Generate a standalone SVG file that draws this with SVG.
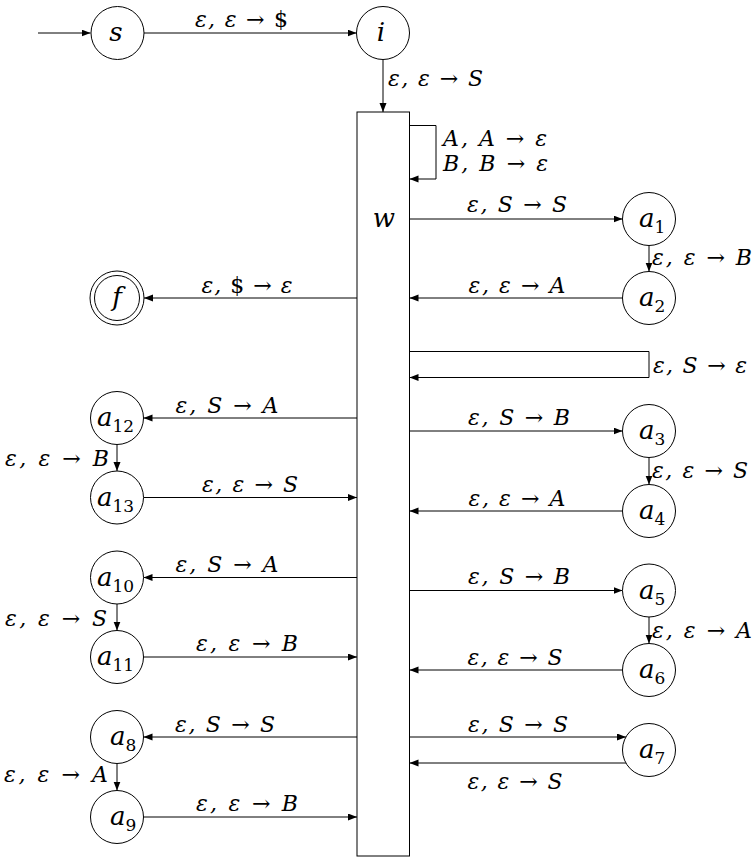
<svg xmlns="http://www.w3.org/2000/svg" width="755" height="859" viewBox="0 0 755 859" font-family="DejaVu Serif, serif">
<defs>
<marker id="ah" markerUnits="userSpaceOnUse" markerWidth="10" markerHeight="8" refX="9" refY="3.5" orient="auto">
<path d="M0,0 L9,3.5 L0,7 Z" fill="#000"/>
</marker>
<style>
.n{fill:#fff;stroke:#000;stroke-width:1}
.e{fill:none;stroke:#000;stroke-width:1;marker-end:url(#ah)}
text{font-family:'DejaVu Serif',serif;font-size:26px;font-style:italic;fill:#000}
text.t{font-size:22px}
.u{font-style:normal}
.sb{font-size:17px;font-style:normal}
</style>
</defs>
<rect width="755" height="859" fill="#fff"/>

<g id="connectors">
<line class="e" x1="38" y1="33" x2="90.5" y2="33"/>
<line class="e" x1="144" y1="33" x2="356.5" y2="33"/>
<line class="e" x1="383" y1="59.5" x2="383" y2="112"/>
<path class="e" d="M409.5,125.5 H436 V179 H409.5"/>
<line class="e" x1="409.5" y1="219" x2="622.5" y2="219"/>
<line class="e" x1="649" y1="245.5" x2="649" y2="271.5"/>
<line class="e" x1="622.5" y1="298" x2="409.5" y2="298"/>
<path class="e" d="M409.5,351.5 H649 V377.5 H409.5"/>
<line class="e" x1="409.5" y1="431" x2="622.5" y2="431"/>
<line class="e" x1="649" y1="457.5" x2="649" y2="484.5"/>
<line class="e" x1="622.5" y1="511" x2="409.5" y2="511"/>
<line class="e" x1="409.5" y1="590.5" x2="622.5" y2="590.5"/>
<line class="e" x1="649" y1="617" x2="649" y2="643.5"/>
<line class="e" x1="622.5" y1="670" x2="409.5" y2="670"/>
<line class="e" x1="409.5" y1="737" x2="626" y2="737"/>
<line class="e" x1="626" y1="763" x2="409.5" y2="763"/>
<line class="e" x1="357" y1="298" x2="144" y2="298"/>
<line class="e" x1="357" y1="418" x2="143.5" y2="418"/>
<line class="e" x1="117" y1="444.5" x2="117" y2="471"/>
<line class="e" x1="143.5" y1="497.5" x2="357" y2="497.5"/>
<line class="e" x1="357" y1="577.5" x2="143.5" y2="577.5"/>
<line class="e" x1="117" y1="604" x2="117" y2="630.5"/>
<line class="e" x1="143.5" y1="657" x2="357" y2="657"/>
<line class="e" x1="357" y1="737" x2="143.5" y2="737"/>
<line class="e" x1="117" y1="763.5" x2="117" y2="790.5"/>
<line class="e" x1="143.5" y1="817" x2="357" y2="817"/>

<text class="t" x="241.5" y="27" text-anchor="middle" textLength="93" lengthAdjust="spacing">ε, ε <tspan class="u">→ $</tspan></text>
<text class="t" x="388" y="86" textLength="95" lengthAdjust="spacing">ε, ε <tspan class="u">→</tspan> S</text>
<text class="t" x="443" y="146" textLength="104" lengthAdjust="spacing">A, A <tspan class="u">→</tspan> ε</text>
<text class="t" x="443" y="171" textLength="105" lengthAdjust="spacing">B, B <tspan class="u">→</tspan> ε</text>
<text class="t" x="517" y="212" text-anchor="middle" textLength="100" lengthAdjust="spacing">ε, S <tspan class="u">→</tspan> S</text>
<text class="t" x="652" y="265" textLength="100" lengthAdjust="spacing">ε, ε <tspan class="u">→</tspan> B</text>
<text class="t" x="517" y="293" text-anchor="middle" textLength="97" lengthAdjust="spacing">ε, ε <tspan class="u">→</tspan> A</text>
<text class="t" x="653" y="373" textLength="94" lengthAdjust="spacing">ε, S <tspan class="u">→</tspan> ε</text>
<text class="t" x="519" y="425" text-anchor="middle" textLength="102" lengthAdjust="spacing">ε, S <tspan class="u">→</tspan> B</text>
<text class="t" x="652" y="478" textLength="96" lengthAdjust="spacing">ε, ε <tspan class="u">→</tspan> S</text>
<text class="t" x="517" y="506" text-anchor="middle" textLength="97" lengthAdjust="spacing">ε, ε <tspan class="u">→</tspan> A</text>
<text class="t" x="519" y="584" text-anchor="middle" textLength="102" lengthAdjust="spacing">ε, S <tspan class="u">→</tspan> B</text>
<text class="t" x="652" y="638" textLength="100" lengthAdjust="spacing">ε, ε <tspan class="u">→</tspan> A</text>
<text class="t" x="515" y="665" text-anchor="middle" textLength="95" lengthAdjust="spacing">ε, ε <tspan class="u">→</tspan> S</text>
<text class="t" x="518" y="732" text-anchor="middle" textLength="100" lengthAdjust="spacing">ε, S <tspan class="u">→</tspan> S</text>
<text class="t" x="515" y="789" text-anchor="middle" textLength="95" lengthAdjust="spacing">ε, ε <tspan class="u">→</tspan> S</text>

<text class="t" x="247" y="293" text-anchor="middle" textLength="91" lengthAdjust="spacing">ε, <tspan class="u">$ →</tspan> ε</text>
<text class="t" x="227" y="413" text-anchor="middle" textLength="103" lengthAdjust="spacing">ε, S <tspan class="u">→</tspan> A</text>
<text class="t" x="109" y="466" text-anchor="end" textLength="104" lengthAdjust="spacing">ε, ε <tspan class="u">→</tspan> B</text>
<text class="t" x="250" y="492" text-anchor="middle" textLength="96" lengthAdjust="spacing">ε, ε <tspan class="u">→</tspan> S</text>
<text class="t" x="227" y="572" text-anchor="middle" textLength="103" lengthAdjust="spacing">ε, S <tspan class="u">→</tspan> A</text>
<text class="t" x="107" y="626" text-anchor="end" textLength="102" lengthAdjust="spacing">ε, ε <tspan class="u">→</tspan> S</text>
<text class="t" x="247" y="651" text-anchor="middle" textLength="102" lengthAdjust="spacing">ε, ε <tspan class="u">→</tspan> B</text>
<text class="t" x="225" y="732" text-anchor="middle" textLength="100" lengthAdjust="spacing">ε, S <tspan class="u">→</tspan> S</text>
<text class="t" x="108" y="782" text-anchor="end" textLength="104" lengthAdjust="spacing">ε, ε <tspan class="u">→</tspan> A</text>
<text class="t" x="247" y="811" text-anchor="middle" textLength="102" lengthAdjust="spacing">ε, ε <tspan class="u">→</tspan> B</text>
</g>

<g id="w"><rect class="n" x="357" y="112" width="52.5" height="744"/><text x="384" y="227" text-anchor="middle">w</text></g>
<g id="s"><circle class="n" cx="117.5" cy="33" r="26.5"/><text x="116" y="41" text-anchor="middle">s</text></g>
<g id="i"><circle class="n" cx="383" cy="33" r="26.5"/><text x="381" y="41" text-anchor="middle">i</text></g>
<g id="f"><circle class="n" cx="117" cy="298" r="27"/><circle class="n" cx="117" cy="298" r="22.5"/><text x="117" y="306" text-anchor="middle">f</text></g>

<g id="a1"><circle class="n" cx="649" cy="219" r="26.5"/><text x="639" y="227">a<tspan class="sb" dy="6">1</tspan></text></g>
<g id="a2"><circle class="n" cx="649" cy="298" r="26.5"/><text x="639" y="306">a<tspan class="sb" dy="6">2</tspan></text></g>
<g id="a3"><circle class="n" cx="649" cy="431" r="26.5"/><text x="639" y="439">a<tspan class="sb" dy="6">3</tspan></text></g>
<g id="a4"><circle class="n" cx="649" cy="511" r="26.5"/><text x="639" y="519">a<tspan class="sb" dy="6">4</tspan></text></g>
<g id="a5"><circle class="n" cx="649" cy="590.5" r="26.5"/><text x="639" y="598.5">a<tspan class="sb" dy="6">5</tspan></text></g>
<g id="a6"><circle class="n" cx="649" cy="670" r="26.5"/><text x="639" y="678">a<tspan class="sb" dy="6">6</tspan></text></g>
<g id="a7"><circle class="n" cx="649" cy="750" r="26.5"/><text x="639" y="758">a<tspan class="sb" dy="6">7</tspan></text></g>

<g id="a12"><circle class="n" cx="117" cy="418" r="26.5"/><text x="97" y="426">a<tspan class="sb" dy="6">12</tspan></text></g>
<g id="a13"><circle class="n" cx="117" cy="497.5" r="26.5"/><text x="97" y="505.5">a<tspan class="sb" dy="6">13</tspan></text></g>
<g id="a10"><circle class="n" cx="117" cy="577.5" r="26.5"/><text x="97" y="585.5">a<tspan class="sb" dy="6">10</tspan></text></g>
<g id="a11"><circle class="n" cx="117" cy="657" r="26.5"/><text x="97" y="665">a<tspan class="sb" dy="6">11</tspan></text></g>
<g id="a8"><circle class="n" cx="117" cy="737" r="26.5"/><text x="110" y="745">a<tspan class="sb" dy="6">8</tspan></text></g>
<g id="a9"><circle class="n" cx="117" cy="817" r="26.5"/><text x="110" y="825">a<tspan class="sb" dy="6">9</tspan></text></g>
</svg>
